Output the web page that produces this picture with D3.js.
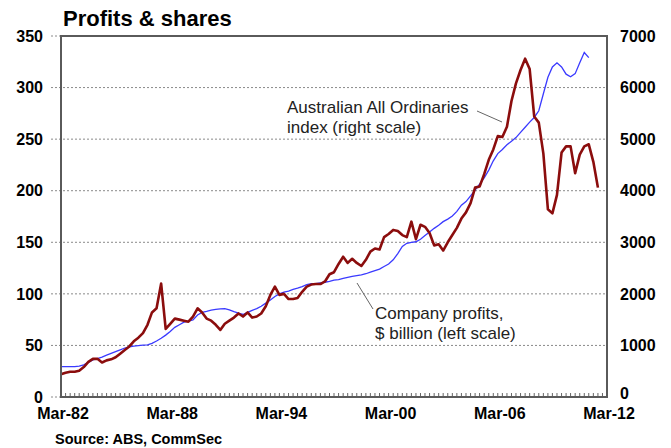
<!DOCTYPE html>
<html>
<head>
<meta charset="utf-8">
<script src="https://cdn.jsdelivr.net/npm/d3@7"></script>
<style>
  body { margin: 0; background: #fff; }
  svg { display: block; font-family: "Liberation Sans", Arial, sans-serif; }
</style>
</head>
<body>
<div id="chart"></div>
<script>
// company profits, $ billion, quarterly from Mar-82 (left scale)
const profits = [
  22, 23.5, 24.5, 24.5, 25.5, 29, 34, 37, 37, 33.5,
  35.5, 36.5, 38.5, 42, 45.5, 49, 54, 57.5, 62, 70,
  82, 86, 110, 66, 71, 76, 75, 74, 73, 78,
  86, 82, 76, 74, 70, 65, 71, 74, 77, 81,
  78, 82, 77, 78, 81, 88, 99, 107, 99, 100,
  95, 95, 96, 102, 107, 109, 109.5, 109.5, 112, 119,
  121, 129, 136, 130, 134, 130, 127, 133, 141, 144,
  143, 155, 158, 162, 161, 157, 155, 170, 153, 167,
  165, 159, 147, 148, 142, 150, 157, 164, 173, 179,
  188, 203, 204, 216, 230, 240, 253, 252, 262, 287,
  304, 317, 328, 318, 272, 266, 236, 182, 178, 196,
  237, 243, 243, 217, 235, 243, 245, 228, 203
];

// Australian All Ordinaries index, quarterly from Mar-82 (right scale)
const allOrds = [
  588, 588, 588, 590, 600, 625, 670, 720, 745, 775,
  810, 845, 880, 915, 950, 970, 985, 995, 1005, 1010,
  1040, 1085, 1140, 1200, 1270, 1350, 1400, 1450, 1470, 1495,
  1590, 1640, 1660, 1685, 1700, 1710, 1715, 1690, 1655, 1625,
  1600, 1640, 1680, 1715, 1760, 1820, 1880, 1950, 2000, 2035,
  2055, 2085, 2110, 2140, 2180, 2200, 2200, 2215, 2225, 2240,
  2265, 2275, 2300, 2320, 2340, 2355, 2370, 2390, 2420, 2450,
  2480, 2530, 2580, 2660, 2780, 2920, 2980, 3000, 3010, 3060,
  3130, 3200, 3270, 3330, 3400, 3450, 3510, 3600, 3720, 3790,
  3900, 4010, 4130, 4250, 4400, 4580, 4720, 4800, 4890, 4960,
  5030, 5130, 5230, 5330, 5420, 5550, 5880, 6200, 6400, 6480,
  6400, 6260, 6210, 6270, 6480, 6680, 6580
];

const leftTicks = [0, 50, 100, 150, 200, 250, 300, 350];
const rightTicks = [0, 1000, 2000, 3000, 4000, 5000, 6000, 7000];
const xLabelYears = [1982, 1988, 1994, 2000, 2006, 2012];

const width = 671, height = 448;
const margin = {top: 36, right: 64, bottom: 51, left: 61};
const innerW = width - margin.left - margin.right;
const innerH = height - margin.top - margin.bottom;

const start = new Date(1982, 2, 1);
const end = new Date(2012, 2, 1);
const qDate = i => d3.timeMonth.offset(start, 3 * i);

const x = d3.scaleTime().domain([start, end]).range([0, innerW]);
const yL = d3.scaleLinear().domain([0, 350]).range([innerH, 0]);
const yR = d3.scaleLinear().domain([0, 7000]).range([innerH, 0]);

const svg = d3.select("#chart").append("svg")
  .attr("width", width)
  .attr("height", height);

svg.append("text")
  .attr("x", 63)
  .attr("y", 26)
  .style("font-size", "22px")
  .style("font-weight", "bold")
  .text("Profits & shares");

svg.append("text")
  .attr("x", 55)
  .attr("y", 444)
  .style("font-size", "14.5px")
  .style("font-weight", "bold")
  .text("Source: ABS, CommSec");

const g = svg.append("g")
  .attr("transform", "translate(" + margin.left + "," + margin.top + ")");

// dotted gridlines, sticking out a bit to the left
g.selectAll(".grid")
  .data(leftTicks)
  .enter().append("line")
  .attr("class", "grid")
  .attr("x1", -10)
  .attr("x2", innerW)
  .attr("y1", d => yL(d))
  .attr("y2", d => yL(d))
  .attr("stroke", "#8a8a8a")
  .attr("stroke-width", 1)
  .attr("stroke-dasharray", "2,2");

// left axis labels
g.selectAll(".lab-l")
  .data(leftTicks)
  .enter().append("text")
  .attr("class", "lab-l")
  .attr("x", -18)
  .attr("y", d => yL(d))
  .attr("dy", "0.36em")
  .attr("text-anchor", "end")
  .style("font-size", "16px")
  .style("font-weight", "bold")
  .text(d => d);

// right axis labels (the bottom one sits a touch higher, clear of Mar-12)
g.selectAll(".lab-r")
  .data(rightTicks)
  .enter().append("text")
  .attr("class", "lab-r")
  .attr("x", innerW + 13)
  .attr("y", d => d === 0 ? yR(d) - 4 : yR(d))
  .attr("dy", "0.36em")
  .attr("text-anchor", "start")
  .style("font-size", "16px")
  .style("font-weight", "bold")
  .text(d => d);

// quarterly minor ticks on the bottom axis
const quarterTicks = d3.range(0, 121).map(qDate);
g.selectAll(".qtick")
  .data(quarterTicks)
  .enter().append("line")
  .attr("class", "qtick")
  .attr("x1", d => x(d))
  .attr("x2", d => x(d))
  .attr("y1", innerH)
  .attr("y2", innerH - 4)
  .attr("stroke", "#666")
  .attr("stroke-width", 1);

// x labels
const fmt = d3.timeFormat("%b-%y");
g.selectAll(".lab-x")
  .data(xLabelYears.map(yr => new Date(yr, 2, 1)))
  .enter().append("text")
  .attr("class", "lab-x")
  .attr("x", d => x(d) + 2)
  .attr("y", innerH + 22)
  .attr("text-anchor", "middle")
  .style("font-size", "16px")
  .style("font-weight", "bold")
  .text(d => fmt(d));

// lines
const lineR = d3.line()
  .x((d, i) => x(qDate(i)))
  .y(d => yR(d));
const lineL = d3.line()
  .x((d, i) => x(qDate(i)))
  .y(d => yL(d));

g.append("path")
  .datum(allOrds)
  .attr("fill", "none")
  .attr("stroke", "#3a3aff")
  .attr("stroke-width", 1.3)
  .attr("d", lineR);

g.append("path")
  .datum(profits)
  .attr("fill", "none")
  .attr("stroke", "#8b0d0d")
  .attr("stroke-width", 2.6)
  .attr("stroke-linejoin", "round")
  .attr("d", lineL);

// frame
g.append("rect")
  .attr("x", 0)
  .attr("y", 0)
  .attr("width", innerW)
  .attr("height", innerH)
  .attr("fill", "none")
  .attr("stroke", "#5a5a5a")
  .attr("stroke-width", 2);

// annotations
const notes = svg.append("g")
  .style("font-size", "17px")
  .attr("fill", "#222");

notes.append("text").attr("x", 287).attr("y", 113).text("Australian All Ordinaries");
notes.append("text").attr("x", 287).attr("y", 133).text("index (right scale)");
notes.append("line")
  .attr("x1", 477).attr("y1", 111).attr("x2", 502).attr("y2", 122)
  .attr("stroke", "#666").attr("stroke-width", 1);

notes.append("text").attr("x", 375).attr("y", 319).text("Company profits,");
notes.append("text").attr("x", 375).attr("y", 339).text("$ billion (left scale)");
notes.append("line")
  .attr("x1", 357).attr("y1", 283).attr("x2", 373).attr("y2", 309)
  .attr("stroke", "#666").attr("stroke-width", 1);
</script>
</body>
</html>
